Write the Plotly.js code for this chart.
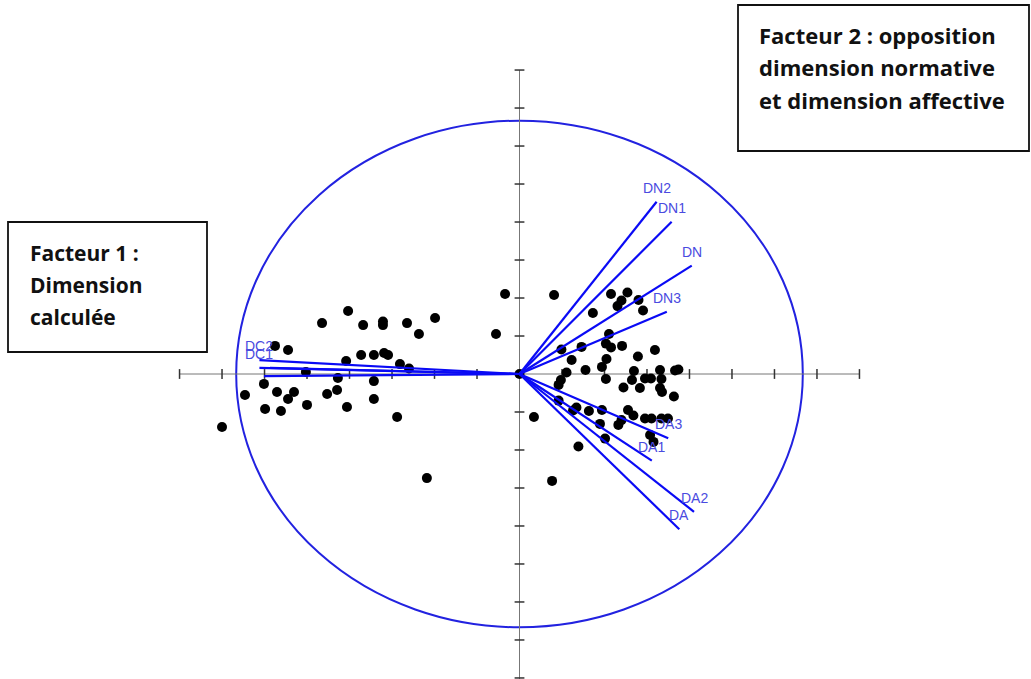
<!DOCTYPE html>
<html>
<head>
<meta charset="utf-8">
<script src="https://cdn.plot.ly/plotly-3.0.1.min.js"></script>
<style>
html,body{margin:0;padding:0;background:#fff;}
#chart{width:1031px;height:679px;}
</style>
</head>
<body>
<div id="chart"></div>
<script>
// Individuals (factor scores, scaled to the correlation circle)
const ptX = [-0.605,-0.697,-0.552,-0.482,-0.482,-0.397,-0.298,-0.355,-0.863,-0.817,-0.559,-0.514,-0.478,-0.464,-0.612,-0.422,-0.390,-0.754,-0.641,-0.514,-0.902,-0.969,-0.856,-0.796,-0.817,-0.644,-0.679,-0.514,-0.750,-0.898,-0.842,-0.609,-0.432,-1.050,-0.327,
-0.051,-0.083,0.000,0.122,0.051,0.115,
0.323,0.381,0.360,0.346,0.420,0.436,0.259,0.316,0.148,0.219,0.305,0.323,0.362,0.478,0.418,0.184,0.307,0.291,0.233,0.166,0.404,0.496,0.549,0.561,
0.146,0.138,0.305,0.397,0.443,0.464,0.501,0.367,0.425,0.496,0.503,0.545,0.138,0.201,0.189,0.245,0.291,0.383,0.402,0.360,0.349,0.284,0.443,0.466,0.501,0.524,0.461,0.473,0.302,0.208];
const ptY = [0.249,0.201,0.193,0.207,0.193,0.201,0.221,0.158,0.111,0.095,0.075,0.075,0.083,0.075,0.051,0.039,0.022,0.008,-0.016,-0.028,-0.039,-0.083,-0.071,-0.071,-0.099,-0.063,-0.079,-0.099,-0.122,-0.138,-0.146,-0.130,-0.170,-0.209,-0.411,
0.316,0.158,0.000,0.312,-0.170,-0.422,
0.316,0.322,0.290,0.268,0.292,0.251,0.241,0.158,0.097,0.107,0.120,0.105,0.111,0.095,0.069,0.055,0.059,0.028,0.016,0.006,0.012,0.016,0.014,0.018,
-0.024,-0.043,-0.020,-0.024,-0.018,-0.018,-0.020,-0.053,-0.055,-0.055,-0.071,-0.089,-0.105,-0.132,-0.144,-0.146,-0.142,-0.142,-0.164,-0.182,-0.201,-0.197,-0.176,-0.176,-0.176,-0.176,-0.241,-0.268,-0.255,-0.286];

// Variables (correlations with factor 1 and factor 2)
const varNames  = ["DN2","DN1","DN","DN3","DA3","DA1","DA2","DA","DC2","DC1","DC3","DC"];
const varLabels = ["DN2","DN1","DN","DN3","DA3","DA1","DA2","DA","DC2","DC1","",""];
const varX = [0.484,0.537,0.608,0.520,0.525,0.467,0.616,0.564,-0.918,-0.918,-0.881,-0.902];
const varY = [0.680,0.601,0.428,0.246,-0.254,-0.342,-0.544,-0.613,0.055,0.024,0.024,-0.008];

// Axis tick positions
const tickVals = [-1.2,-1.05,-0.9,-0.75,-0.6,-0.45,-0.3,-0.15,0.15,0.3,0.45,0.6,0.75,0.9,1.05,1.2];

// Text boxes
const box1Lines = ["Facteur 1 :","Dimension","calculée"];
const box2Lines = ["Facteur 2 : opposition","dimension normative","et dimension affective"];

const W = 1031, H = 679;
const cx = 519.5, cy = 374, sx = 283.3, sy = 253.3;
const xr = [(0 - cx) / sx, (W - cx) / sx];
const yr = [(cy - H) / sy, cy / sy];

const vx = [], vy = [];
varX.forEach((v, i) => { vx.push(0, v, null); vy.push(0, varY[i], null); });

const axisColor = '#777';
const tickColor = '#333';

const traces = [
  // axes
  {x:[-1.2,1.2], y:[0,0], mode:'lines', line:{color:axisColor,width:1}, hoverinfo:'skip'},
  {x:[0,0], y:[-1.25,1.2], mode:'lines', line:{color:axisColor,width:1}, hoverinfo:'skip'},
  {x:tickVals, y:tickVals.map(()=>0), mode:'markers', hoverinfo:'skip',
   marker:{symbol:'line-ns', size:7, line:{color:tickColor,width:1.5}}},
  {x:tickVals.map(()=>0), y:tickVals, mode:'markers', hoverinfo:'skip',
   marker:{symbol:'line-ew', size:7, line:{color:tickColor,width:1.5}}},
  // individuals
  {x:ptX, y:ptY, mode:'markers', marker:{color:'#000', size:10}, hoverinfo:'skip'},
  // variable vectors
  {x:vx, y:vy, mode:'lines', line:{color:'#0a0af5', width:2.2}, hoverinfo:'skip', connectgaps:false}
];

const annotations = [];
varLabels.forEach((t, i) => {
  if (!t) return;
  annotations.push({xref:'x', yref:'y', x:varX[i], y:varY[i], text:t, showarrow:false,
    xanchor:'center', yanchor:'middle', yshift:14,
    font:{family:'Liberation Sans, Arial, sans-serif', size:14, color:'#4a4ae0'}});
});
const box1Font = {family:'"Open Sans", sans-serif', size:21, color:'#111', weight:'bold'};
const box2Font = {family:'"Open Sans", sans-serif', size:22, color:'#111', weight:'bold'};
box1Lines.forEach((t, i) => annotations.push({
  xref:'paper', yref:'paper', x:28/W, y:1 - (253 + 32*i)/H, xanchor:'left', yanchor:'middle',
  text:'<b>'+t+'</b>', showarrow:false, font:box1Font, align:'left'}));
box2Lines.forEach((t, i) => annotations.push({
  xref:'paper', yref:'paper', x:757/W, y:1 - (35 + 32.5*i)/H, xanchor:'left', yanchor:'middle',
  text:'<b>'+t+'</b>', showarrow:false, font:box2Font, align:'left'}));

const shapes = [
  {type:'circle', xref:'x', yref:'y', x0:-1, x1:1, y0:-1, y1:1, line:{color:'#2222e0', width:2}, layer:'below'},
  {type:'rect', xref:'paper', yref:'paper', x0:8/W, x1:207/W, y0:1-222/H, y1:1-352/H, line:{color:'#111', width:1.8}, fillcolor:'#fff'},
  {type:'rect', xref:'paper', yref:'paper', x0:738/W, x1:1029/W, y0:1-5/H, y1:1-151/H, line:{color:'#111', width:1.8}, fillcolor:'#fff'}
];

const layout = {
  width:W, height:H,
  margin:{l:0, r:0, t:0, b:0},
  paper_bgcolor:'#fff', plot_bgcolor:'#fff',
  showlegend:false,
  xaxis:{range:xr, visible:false, fixedrange:true},
  yaxis:{range:yr, visible:false, fixedrange:true},
  shapes:shapes,
  annotations:annotations
};

Plotly.newPlot('chart', traces, layout, {staticPlot:true, displayModeBar:false});
</script>
</body>
</html>
